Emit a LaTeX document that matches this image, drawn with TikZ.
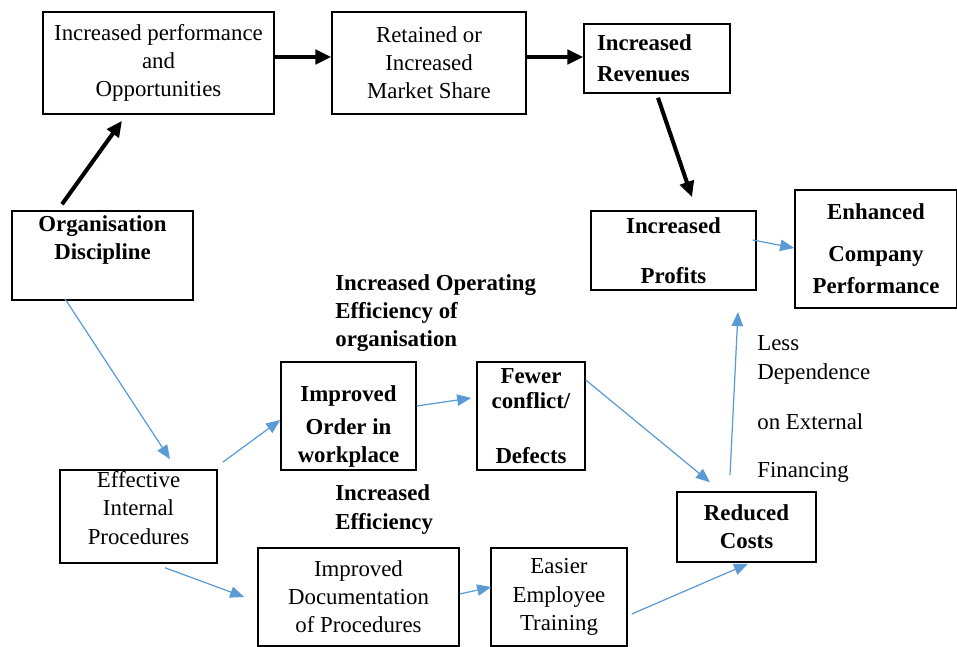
\documentclass[tikz,border=0pt]{standalone}
\usepackage{fontspec}
\setmainfont{Liberation Serif}
\usepackage{tikz}
\usetikzlibrary{arrows.meta,calc}
\definecolor{linkblue}{RGB}{91,155,213}

\begin{document}
\begin{tikzpicture}[x=0.02cm,y=-0.02cm,font=\fontsize{13}{16}\selectfont,
  flowbox/.style={draw,line width=0.9pt,align=center,inner sep=0pt},
  boldbox/.style={flowbox,font=\fontsize{13}{16}\selectfont\bfseries},
  mainlink/.style={-{Triangle[length=9pt,width=8pt]},line width=2.3pt},
  sidelink/.style={-{Triangle[length=8pt,width=6.5pt]},linkblue,line width=0.7pt}]
  \useasboundingbox (0,0) rectangle (957,646);
  % top row
  \node[flowbox,minimum width=4.62cm,minimum height=2.04cm] (perf) at (158.5,63)
    {Increased performance\\and\\Opportunities};
  \node[flowbox,minimum width=3.88cm,minimum height=2.04cm] (share) at (429,63)
    {Retained or\\Increased\\Market Share};
  \node[boldbox,align=left,text width=2.4cm,inner xsep=0.26cm,minimum height=1.38cm] (rev) at (657,58.5)
    {Increased\\[1.7pt]Revenues};
  % left column
  \node[boldbox,minimum width=3.62cm,minimum height=1.78cm] (org) at (102.5,255.5)
    {Organisation\\Discipline\\\strut};
  \node[flowbox,minimum width=3.14cm,minimum height=1.86cm] (proc) at (138.5,516.5)
    {Effective\\Internal\\Procedures\\[-11pt]\strut};
  % middle
  \node[boldbox,minimum width=2.7cm,minimum height=2.16cm] (order) at (348.5,416)
    {\strut\\[-6pt]Improved\\[3pt]Order in\\workplace};
  \node[boldbox,minimum width=2.16cm,minimum height=2.16cm] (fewer) at (531,416)
    {Fewer\\[-1.7pt]conflict/\\[15pt]Defects};
  \node[flowbox,minimum width=4.02cm,minimum height=1.96cm] (doc) at (358.5,597)
    {Improved\\Documentation\\of Procedures};
  \node[flowbox,minimum width=2.72cm,minimum height=1.96cm] (train) at (559,597)
    {Easier\\Employee\\Training};
  % right
  \node[boldbox,minimum width=2.78cm,minimum height=1.4cm] (cost) at (746.5,527)
    {Reduced\\Costs};
  \node[boldbox,minimum width=3.3cm,minimum height=1.58cm] (profit) at (673.5,250.5)
    {Increased\\[12.5pt]Profits};
  \node[boldbox,minimum width=3.24cm,minimum height=2.36cm] (enh) at (876,249)
    {Enhanced\\[8pt]Company\\[2.3pt]Performance};
  % labels
  \node[font=\fontsize{13}{16}\selectfont\bfseries,align=left,inner sep=0pt,anchor=west] (opeff) at (335,313)
    {Increased Operating\\Efficiency of\\organisation};
  \node[font=\fontsize{13}{16}\selectfont\bfseries,align=left,inner sep=0pt,anchor=west] (inceff) at (335,509.5)
    {Increased\\Efficiency};
  \node[align=left,inner sep=0pt,anchor=west] (lessdep) at (757,409)
    {Less\\Dependence\\[12.5pt]on External\\[11.3pt]Financing};
  \coordinate (lessend) at (738,312);
  % black links
  \draw[mainlink] ($(org.north)+(-40.5,-6)$) -- ($(perf.south)+(-36.5,6)$);
  \draw[mainlink] ($(perf.east)+(0,-6)$) -- ($(share.west)+(0,-6)$);
  \draw[mainlink] ($(share.east)+(0,-6)$) -- ($(rev.west)+(0,-1.5)$);
  \draw[mainlink] ($(rev.south)+(1,4)$) -- ($(profit.north)+(18.5,-13)$);
  % blue links
  \draw[sidelink] ($(org.south)+(-37.5,-2)$) -- ($(proc.north)+(31.5,-10)$);
  \draw[sidelink] ($(proc.north east)+(5,-7)$) -- ($(order.west)+(0,4)$);
  \draw[sidelink] ($(order.east)+(0,-10)$) -- ($(fewer.west)+(-5,-18)$);
  \draw[sidelink] ($(fewer.east)+(0,-36)$) -- ($(cost.north)+(-36.5,-9)$);
  \draw[sidelink] ($(proc.south)+(26.5,4)$) -- ($(doc.west)+(-13,0)$);
  \draw[sidelink] ($(doc.east)+(0,-3)$) -- ($(train.west)+(1,-10)$);
  \draw[sidelink] ($(train.east)+(4,17)$) -- ($(cost.south)+(1.5,1)$);
  \draw[sidelink] ($(cost.north)+(-16.5,-16)$) -- (lessend);
  \draw[sidelink] ($(profit.east)+(-4,-10.5)$) -- ($(enh.west)+(0,-1)$);
\end{tikzpicture}
\end{document}
